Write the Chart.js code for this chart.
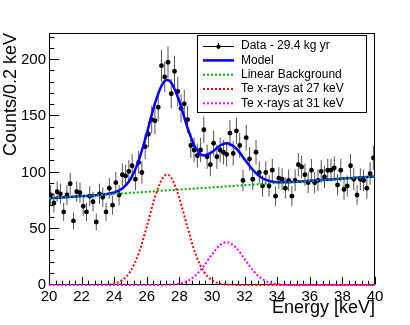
<!DOCTYPE html>
<html><head><meta charset="utf-8">
<script src="https://cdn.jsdelivr.net/npm/chart.js@4"></script>
<style>html,body{margin:0;padding:0;background:#fff;}canvas{display:block;}</style>
</head><body>
<canvas id="c" width="410" height="325"></canvas>
<script>
// ---- data ----
const binStart = 20, binWidth = 0.2;
const counts = [80,73,83,81,65,80,90,57,83,82, 70,65,79,74,56,81,78,65,86,71,
  91,80,98,97,101,106,94,109,100,123, 134,147,146,158,195,185,198,170,190,172,
  157,161,147,124,120,115,120,138,114,107, 126,114,120,118,116,135,117,137,124,93,
  131,112,94,118,100,88,100,88,102,79, 95,94,86,93,79,93,107,105,98,91,
  102,91,93,101,96,102,102,104,89,102, 85,88,106,94,80,94,93,86,99,113];
const binCenters = counts.map((_, i) => binStart + binWidth * (i + 0.5));

const curveE = [20,20.5,21,21.5,22,22.5,23,23.5,24,24.5,25,25.5,26,26.5,27,27.25,27.5,28,28.5,29,29.5,30,30.5,30.9,31,31.5,32,32.5,33,33.5,34,34.5,35,35.5,36,36.5,37,37.5,38,38.5,39,39.5,40];
const modelY = [77.0,77.5,78.0,78.5,79.0,79.4,80.0,80.7,82.2,85.8,94.2,110.4,134.8,161.5,179.6,182.3,179.9,163.2,139.7,121.6,115.1,118.2,124.0,126.0,125.8,121.1,111.7,102.4,95.8,92.5,91.4,91.3,91.6,92.1,92.6,93.1,93.6,94.1,94.6,95.0,95.5,96.0,96.5];
const te27Y = [0,0,0,0,0,0,0.1,0.3,1.3,4.4,12.3,28.0,51.9,78.2,95.7,98.0,95.3,77.2,50.9,27.2,11.9,4.2,1.2,0.4,0.3,0.1,0,0,0,0,0,0,0,0,0,0,0,0,0,0,0,0,0];
const te31Y = [0,0,0,0,0,0,0,0,0,0,0,0,0,0,0.1,0.2,0.3,1.2,3.5,8.6,16.9,27.2,35.6,38.0,37.8,32.8,23.0,13.2,6.1,2.3,0.7,0.2,0,0,0,0,0,0,0,0,0,0,0];
const bgE = [20, 40];
const bgY = [77, 96.5];

const xTickValues = [20,22,24,26,28,30,32,34,36,38,40];
const yTickValues = [0,50,100,150,200];
const legendLabels = ['Data - 29.4 kg yr','Model','Linear Background','Te x-rays at 27 keV','Te x-rays at 31 keV'];
const xTitle = 'Energy [keV]';
const yTitle = 'Counts/0.2 keV';

// ---- drawing ----
const FONT = '"Liberation Sans", Arial, Helvetica, sans-serif';
Chart.defaults.font.family = FONT;
const pts = (xs, ys) => xs.map((x, i) => ({x: x, y: ys[i]}));

const frameTicks = {
  id: 'frameTicks',
  beforeDatasetsDraw(chart) {
    const {ctx, chartArea: a, scales: {x, y}} = chart;
    ctx.save();
    ctx.strokeStyle = '#000';
    ctx.lineWidth = 1;
    const L = Math.round(a.left) + 0.5, R = Math.round(a.right) - 0.5;
    const T = Math.round(a.top) + 0.5, B = Math.round(a.bottom) - 0.5;
    ctx.strokeRect(L, T, R - L, B - T);
    ctx.beginPath();
    for (let i = 0; i <= 50; i++) {
      const v = 20 + 0.4 * i;
      const px = Math.round(x.getPixelForValue(v)) + 0.5;
      const len = (i % 5 === 0) ? 7.6 : 3.8;
      ctx.moveTo(px, B); ctx.lineTo(px, B - len);
    }
    for (let i = 0; i * 10 <= y.max; i++) {
      const v = i * 10;
      const py = Math.round(y.getPixelForValue(v)) - 0.5;
      const len = (i % 5 === 0) ? 9.8 : 4.9;
      ctx.moveTo(L, py); ctx.lineTo(L + len, py);
    }
    ctx.stroke();
    // error bars of the data points
    ctx.strokeStyle = '#555';
    counts.forEach((c, i) => {
      const px = x.getPixelForValue(binCenters[i]);
      const e = Math.sqrt(c);
      ctx.beginPath();
      ctx.moveTo(px, y.getPixelForValue(c - e));
      ctx.lineTo(px, y.getPixelForValue(c + e));
      ctx.stroke();
    });
    ctx.restore();
  }
};

const legendBox = {
  id: 'legendBox',
  afterDraw(chart) {
    const ctx = chart.ctx;
    const bx = 197, by = 35, bw = 169, bh = 77;
    ctx.save();
    ctx.fillStyle = '#fff';
    ctx.fillRect(bx, by, bw, bh);
    ctx.strokeStyle = '#000';
    ctx.lineWidth = 1;
    ctx.strokeRect(bx + 0.5, by + 0.5, bw, bh);
    const x0 = 203, x1 = 234, tx = 241;
    ctx.font = '12px ' + FONT;
    ctx.textBaseline = 'middle';
    chart.data.datasets.forEach((ds, i) => {
      const yy = 46.1 + 14.3 * i;
      ctx.save();
      if (i === 0) {
        ctx.strokeStyle = '#000'; ctx.lineWidth = 1;
        ctx.beginPath();
        ctx.moveTo(x0, Math.round(yy) + 0.5); ctx.lineTo(x1, Math.round(yy) + 0.5);
        ctx.moveTo(218.5, yy - 3); ctx.lineTo(218.5, yy + 3);
        ctx.stroke();
        ctx.fillStyle = '#000';
        ctx.beginPath(); ctx.arc(218.5, yy + 0.5, 2.2, 0, Math.PI * 2); ctx.fill();
      } else {
        ctx.strokeStyle = ds.borderColor; ctx.lineWidth = ds.borderWidth;
        ctx.setLineDash(ds.borderDash || []);
        ctx.beginPath(); ctx.moveTo(x0, yy); ctx.lineTo(x1, yy); ctx.stroke();
      }
      ctx.restore();
      ctx.fillStyle = '#000';
      ctx.fillText(ds.label, tx, yy);
    });
    ctx.restore();
  }
};

new Chart(document.getElementById('c'), {
  type: 'line',
  data: {
    datasets: [
      {label: legendLabels[0], data: pts(binCenters, counts), showLine: false,
       pointRadius: 2.4, pointBackgroundColor: '#000', pointBorderWidth: 0, borderColor: '#000', order: 5},
      {label: legendLabels[1], data: pts(curveE, modelY), borderColor: '#0000ff', borderWidth: 2.5,
       pointRadius: 0, cubicInterpolationMode: 'monotone', fill: false, order: 4, clip: 3},
      {label: legendLabels[2], data: pts(bgE, bgY), borderColor: '#00aa00', borderWidth: 2,
       borderDash: [2, 2], pointRadius: 0, fill: false, order: 3, clip: 3},
      {label: legendLabels[3], data: pts(curveE, te27Y), borderColor: '#ff0000', borderWidth: 2,
       borderDash: [2, 2], pointRadius: 0, cubicInterpolationMode: 'monotone', fill: false, order: 2, clip: 3},
      {label: legendLabels[4], data: pts(curveE, te31Y), borderColor: '#ff00ff', borderWidth: 2,
       borderDash: [2, 2], pointRadius: 0, cubicInterpolationMode: 'monotone', fill: false, order: 1, clip: 3}
    ]
  },
  options: {
    responsive: false, animation: false, devicePixelRatio: 1,
    layout: {padding: {left: 0, right: 35, top: 33, bottom: 0}},
    plugins: {legend: {display: false}, tooltip: {enabled: false}},
    scales: {
      x: {
        type: 'linear', min: 20, max: 40,
        grid: {display: false, drawTicks: false}, border: {display: false},
        afterBuildTicks: s => { s.ticks = xTickValues.map(v => ({value: v})); },
        afterFit: s => { s.height = 40; },
        ticks: {color: '#000', font: {size: 15}, padding: 3, maxRotation: 0, autoSkip: false},
        title: {display: true, text: xTitle, align: 'end', color: '#000', font: {size: 18}, padding: {top: 0, bottom: 6}}
      },
      y: {
        type: 'linear', min: 0, max: 224,
        grid: {display: false, drawTicks: false}, border: {display: false},
        afterBuildTicks: s => { s.ticks = yTickValues.map(v => ({value: v})); },
        afterFit: s => { s.width = 49; },
        ticks: {color: '#000', font: {size: 15}, padding: 3, autoSkip: false},
        title: {display: true, text: yTitle, align: 'end', color: '#000', font: {size: 18}, padding: {top: 0, bottom: 0}}
      }
    }
  },
  plugins: [frameTicks, legendBox]
});
</script>
</body></html>
